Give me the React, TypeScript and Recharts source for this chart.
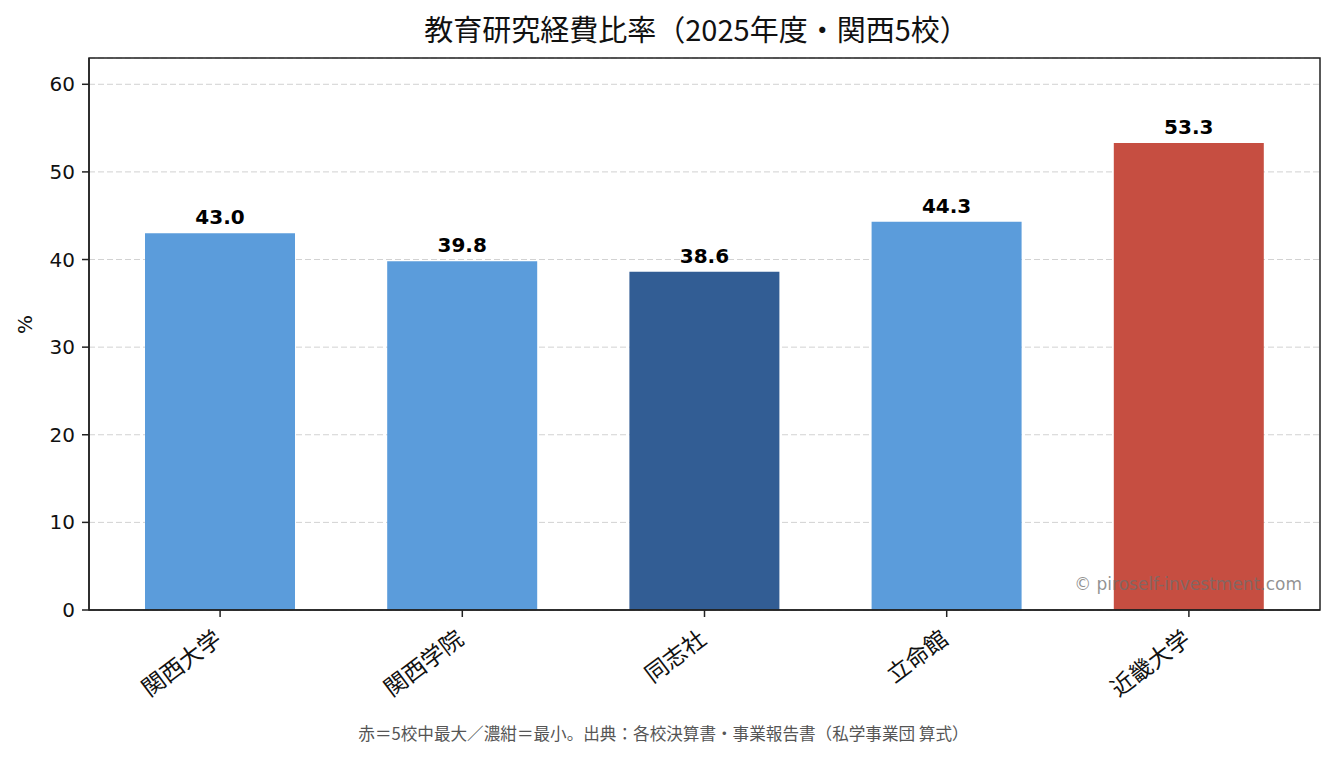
import React from "react";
import {
  BarChart,
  Bar,
  XAxis,
  YAxis,
  CartesianGrid,
  Cell,
  LabelList,
} from "recharts";

const FONT = '"DejaVu Sans", "Noto Sans CJK JP", sans-serif';
const CJK = '"Noto Sans CJK JP", "DejaVu Sans", sans-serif';
const LIGHT = "#5b9cdb";
const DARK = "#325d94";
const RED = "#c64e41";
const AXIS = "#222";

// data
const schools = ["関西大学", "関西学院", "同志社", "立命館", "近畿大学"];
const ratios = [43.0, 39.8, 38.6, 44.3, 53.3];
const yTicks = [0, 10, 20, 30, 40, 50, 60];

const W = 1335;
const H = 757;
// plot box (matches margins below)
const PL = 89;
const PT = 58;
const PR = 1320;
const PB = 610;

const rows = schools.map((name, i) => ({ name, value: ratios[i] }));
const maxV = Math.max(...ratios);
const minV = Math.min(...ratios);
const colorOf = (v: number) => (v === maxV ? RED : v === minV ? DARK : LIGHT);

function SchoolTick(props: any) {
  const { x, y, payload } = props;
  const ax = x - 10;
  const ay = y + 6;
  return (
    <text
      x={ax}
      y={ay}
      textAnchor="end"
      dominantBaseline="hanging"
      transform={`rotate(-37, ${ax}, ${ay})`}
      fontSize={23}
      fill="#111"
      fontFamily={CJK}
    >
      {payload.value}
    </text>
  );
}

export default function App() {
  return (
    <div style={{ position: "absolute", left: 0, top: 0, width: W, height: H, background: "#fff", fontFamily: FONT }}>
      <div
        style={{
          position: "absolute",
          left: PL,
          width: 1215,
          top: 9,
          textAlign: "center",
          fontSize: 29,
          fontFamily: CJK,
          color: "#111",
          lineHeight: "38px",
        }}
      >
        教育研究経費比率（2025年度・関西5校）
      </div>

      <BarChart
        width={W}
        height={H}
        data={rows}
        margin={{ top: PT, right: W - PR, bottom: 56, left: 24 }}
        barCategoryGap={0}
      >
        <CartesianGrid
          horizontal
          vertical={false}
          stroke="#d2d2d2"
          strokeDasharray="6 3"
        />
        <XAxis
          dataKey="name"
          height={H - PB - 56}
          padding={{ left: 10, right: 10 }}
          interval={0}
          tick={<SchoolTick />}
          tickSize={7}
          tickMargin={2}
          tickLine={{ stroke: AXIS, strokeWidth: 1.5 }}
          axisLine={{ stroke: AXIS, strokeWidth: 1.5 }}
        />
        <YAxis
          width={PL - 24}
          domain={[0, 63]}
          ticks={yTicks}
          allowDataOverflow
          tickSize={7}
          tickMargin={7}
          tick={{ fill: "#111", fontSize: 20, fontFamily: FONT }}
          tickLine={{ stroke: AXIS, strokeWidth: 1.5 }}
          axisLine={{ stroke: AXIS, strokeWidth: 1.5 }}
          label={{
            value: "%",
            angle: -90,
            position: "insideLeft",
            dx: -4,
            fill: "#111",
            fontSize: 20,
            fontFamily: FONT,
          }}
        />
        <Bar dataKey="value" barSize={150} isAnimationActive={false}>
          {rows.map((r, i) => (
            <Cell key={`c-${i}`} fill={colorOf(r.value)} />
          ))}
          <LabelList
            dataKey="value"
            position="top"
            offset={9}
            formatter={(v: any) => Number(v).toFixed(1)}
            style={{ fill: "#000", fontSize: 20, fontWeight: 700, fontFamily: FONT }}
          />
        </Bar>
      </BarChart>

      {/* plot frame */}
      <svg
        width={W}
        height={H}
        style={{ position: "absolute", left: 0, top: 0, pointerEvents: "none" }}
      >
        <rect
          x={PL}
          y={PT}
          width={PR - PL}
          height={PB - PT}
          fill="none"
          stroke={AXIS}
          strokeWidth={1.5}
        />
      </svg>

      {/* watermark */}
      <div
        style={{
          position: "absolute",
          right: 33,
          top: 574,
          fontSize: 17,
          color: "rgba(110,110,110,0.75)",
          whiteSpace: "nowrap",
        }}
      >
        © piroself-investment.com
      </div>

      {/* footer note */}
      <div
        style={{
          position: "absolute",
          left: 0,
          width: 1327,
          top: 721,
          textAlign: "center",
          fontSize: 16.6,
          fontFamily: CJK,
          color: "#555",
        }}
      >
        赤＝5校中最大／濃紺＝最小。出典：各校決算書・事業報告書（私学事業団 算式）
      </div>
    </div>
  );
}
